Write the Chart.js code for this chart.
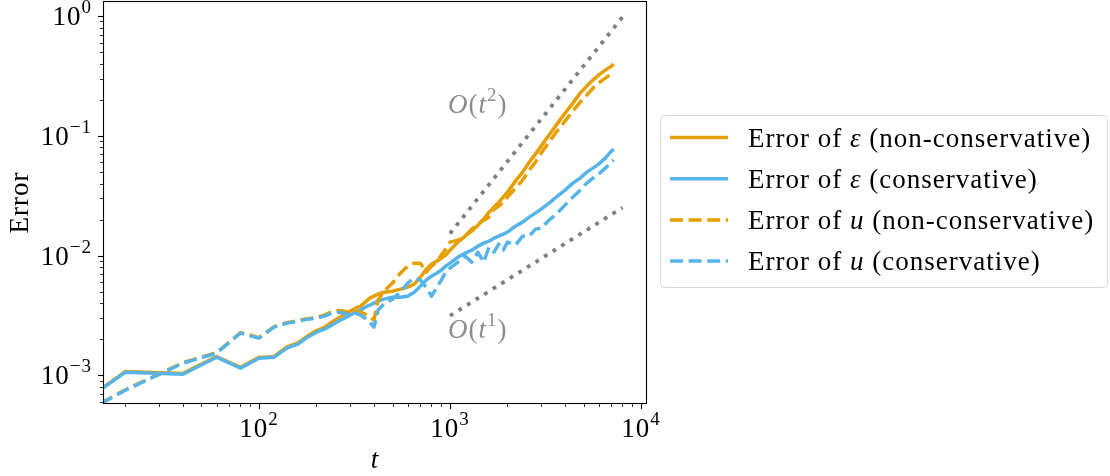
<!DOCTYPE html>
<html>
<head>
<meta charset="utf-8">
<script src="https://cdn.jsdelivr.net/npm/chart.js@4.4.1/dist/chart.umd.min.js"></script>
<style>
  html, body { margin: 0; padding: 0; background: #fff; }
</style>
</head>
<body>
<canvas id="errChart" width="1110" height="476"></canvas>
<script>
// time samples
const tValues = [10, 20, 40, 60, 80, 100, 120, 140, 160, 180, 200, 220, 240, 260, 280, 300, 320, 340, 360, 380,
    400, 420, 450, 500, 550, 600, 650, 700, 750, 800, 850, 900, 950, 1000, 1100, 1200, 1300, 1400, 1500, 1600,
    1700, 1800, 1900, 2000, 2200, 2400, 2600, 2800, 3000, 3300, 3600, 4000, 4400, 4800, 5200, 5600, 6000, 6500,
    7000, 7200];

// Error of epsilon (non-conservative)
const epsNonCons = [4.9e-4, 1.08e-3, 1.04e-3, 1.44e-3, 1.168e-3, 1.415e-3, 1.44e-3, 1.73e-3, 1.87e-3, 2.14e-3,
    2.37e-3, 2.52e-3, 2.786e-3, 3.008e-3, 3.249e-3, 3.441e-3, 3.646e-3, 3.789e-3, 4.091e-3, 4.418e-3,
    4.591e-3, 4.771e-3, 4.958e-3, 5.053e-3, 5.252e-3, 5.459e-3, 5.782e-3, 6.614e-3, 7.714e-3, 8.492e-3,
    8.999e-3, 9.530e-3, 0.0101, 0.01111, 0.01297, 0.01455, 0.01602, 0.01797, 0.02017, 0.02307,
    0.0254, 0.02796, 0.03078, 0.03389, 0.04187, 0.04977, 0.06033, 0.07036, 0.08204, 0.1014,
    0.1228, 0.1547, 0.1875, 0.2272, 0.2601, 0.2917, 0.3211, 0.3535, 0.3818, 0.3968];

// Error of epsilon (conservative)
const epsCons = [4.85e-4, 1.065e-3, 1.025e-3, 1.421e-3, 1.151e-3, 1.394e-3, 1.421e-3, 1.690e-3, 1.825e-3, 2.088e-3,
    2.298e-3, 2.435e-3, 2.630e-3, 2.840e-3, 3.008e-3, 3.187e-3, 3.376e-3, 3.508e-3, 3.716e-3, 3.862e-3,
    4.013e-3, 4.170e-3, 4.334e-3, 4.504e-3, 4.504e-3, 4.591e-3, 4.958e-3, 5.563e-3, 6.244e-3, 6.743e-3,
    7.143e-3, 7.568e-3, 8.177e-3, 8.659e-3, 9.716e-3, 0.01049, 0.01111, 0.012, 0.01272, 0.01321,
    0.014, 0.01455, 0.01512, 0.01571, 0.01763, 0.01904, 0.02097, 0.02264, 0.02444, 0.02743,
    0.03078, 0.03521, 0.04029, 0.04435, 0.04977, 0.05375, 0.05805, 0.06515, 0.07453, 0.07745];

// Error of u (non-conservative)
const uNonCons = [4.18e-4, 7.6e-4, 1.28e-3, 1.55e-3, 2.28e-3, 2.07e-3, 2.56e-3, 2.76e-3, 2.87e-3, 2.98e-3,
    3.05e-3, 3.19e-3, 3.40e-3, 3.48e-3, 3.441e-3, 3.311e-3, 3.441e-3, 3.376e-3, 3.249e-3, 3.066e-3,
    2.894e-3, 4.251e-3, 5.053e-3, 5.895e-3, 7.143e-3, 8.177e-3, 8.659e-3, 8.659e-3, 7.282e-3, 8.177e-3,
    8.826e-3, 0.0101, 0.01133, 0.01297, 0.01347, 0.01455, 0.01664, 0.01832, 0.01978, 0.02097,
    0.02444, 0.02589, 0.02796, 0.03078, 0.03659, 0.04268, 0.05172, 0.06033, 0.07171, 0.08857,
    0.1074, 0.1327, 0.1608, 0.1911, 0.2186, 0.2502, 0.2754, 0.3031, 0.3273, 0.3401];

// Error of u (conservative)
const uCons = [4.154e-4, 7.539e-4, 1.267e-3, 1.535e-3, 2.255e-3, 2.048e-3, 2.530e-3, 2.733e-3, 2.840e-3, 2.951e-3,
    3.008e-3, 3.126e-3, 3.311e-3, 3.376e-3, 3.311e-3, 3.187e-3, 3.311e-3, 3.187e-3, 3.008e-3, 2.786e-3,
    2.530e-3, 3.508e-3, 3.937e-3, 4.334e-3, 4.958e-3, 5.895e-3, 6.489e-3, 6.244e-3, 5.459e-3, 4.591e-3,
    5.354e-3, 6.244e-3, 7.282e-3, 7.865e-3, 8.826e-3, 9.904e-3, 8.826e-3, 0.0107, 8.826e-3, 0.01178,
    0.0107, 0.01247, 0.01111, 0.01297, 0.01224, 0.01455, 0.01455, 0.01664, 0.01696, 0.01978,
    0.0222, 0.02639, 0.03078, 0.03521, 0.04029, 0.04435, 0.04789, 0.05375, 0.06033, 0.06268];

// reference slopes
const refT = [1000, 8000];
const refOrder2 = [0.0153, 0.98];
const refOrder1 = [0.00315, 0.0252];

const xMajorTicks = [100, 1000, 10000];
const yMajorTicks = [1, 0.1, 0.01, 0.001];

const seriesLabels = [
    ['Error of ', 'ε', ' (non-conservative)'],
    ['Error of ', 'ε', ' (conservative)'],
    ['Error of ', 'u', ' (non-conservative)'],
    ['Error of ', 'u', ' (conservative)']
];

const ORANGE = '#E69F00';
const BLUE = '#56B4E9';
const GREY = '#7f7f7f';
const SERIF = '"Liberation Serif", "DejaVu Serif", serif';
const DASH = [13, 5.6];
const DOT = [3.8, 6.3];

function font(size, italic) {
    return (italic ? 'italic ' : '') + size + 'px ' + SERIF;
}

// draws [text, size, italic, dy] runs one after another
function drawRuns(ctx, runs, x, y, align) {
    let total = 0;
    runs.forEach(r => {
        ctx.font = font(r[1], r[2]);
        r.w = ctx.measureText(r[0]).width;
        total += r.w;
    });
    let cx = align === 'right' ? x - total : align === 'center' ? x - total / 2 : x;
    runs.forEach(r => {
        ctx.font = font(r[1], r[2]);
        ctx.fillText(r[0], cx, y + (r[3] || 0));
        cx += r.w;
    });
}

function expLabel(v) {
    const e = Math.round(Math.log10(v));
    return [['10', 27, false, 0], [(e < 0 ? '\u2212' : '') + Math.abs(e), 19, false, -12]];
}

const pts = (ys) => tValues.map((t, i) => ({x: t, y: ys[i]}));
const refPts = (ys) => refT.map((t, i) => ({x: t, y: ys[i]}));

const axesPlugin = {
    id: 'axesPlugin',
    afterDraw(chart) {
        const ctx = chart.ctx;
        const a = chart.chartArea;
        const xs = chart.scales.x;
        const ys = chart.scales.y;
        ctx.save();
        ctx.letterSpacing = '1px';
        ctx.textBaseline = 'alphabetic';

        // frame
        ctx.strokeStyle = '#000';
        ctx.lineWidth = 1.1;
        ctx.strokeRect(a.left + 0.5, a.top + 0.5, a.right - a.left - 1, a.bottom - a.top - 1);

        // x ticks
        for (let k = 1; k <= 4; k++) {
            for (let m = 1; m <= 9; m++) {
                const v = m * Math.pow(10, k);
                if (v < xs.min || v > xs.max) continue;
                const px = Math.round(xs.getPixelForValue(v)) + 0.5;
                ctx.lineWidth = m === 1 ? 1.1 : 0.8;
                ctx.beginPath();
                ctx.moveTo(px, a.bottom);
                ctx.lineTo(px, a.bottom + (m === 1 ? 5 : 3));
                ctx.stroke();
            }
        }
        // y ticks
        for (let k = -4; k <= 0; k++) {
            for (let m = 1; m <= 9; m++) {
                const v = m * Math.pow(10, k);
                if (v < ys.min || v > ys.max) continue;
                const py = Math.round(ys.getPixelForValue(v)) + 0.5;
                ctx.lineWidth = m === 1 ? 1.1 : 0.8;
                ctx.beginPath();
                ctx.moveTo(a.left, py);
                ctx.lineTo(a.left - (m === 1 ? 5 : 3), py);
                ctx.stroke();
            }
        }

        // tick labels
        ctx.fillStyle = '#000';
        xMajorTicks.forEach(v => {
            drawRuns(ctx, expLabel(v), xs.getPixelForValue(v), a.bottom + 33, 'center');
        });
        yMajorTicks.forEach(v => {
            drawRuns(ctx, expLabel(v), a.left - 11, ys.getPixelForValue(v) + 9, 'right');
        });

        // axis titles
        drawRuns(ctx, [['t', 27, true, 0]], (a.left + a.right) / 2, 468, 'center');
        ctx.save();
        ctx.translate(28, (a.top + a.bottom) / 2);
        ctx.rotate(-Math.PI / 2);
        drawRuns(ctx, [['Error', 27, false, 0]], 0, 0, 'center');
        ctx.restore();

        // slope annotations
        ctx.fillStyle = '#8c8c8c';
        drawRuns(ctx, [['O', 27, true, 0], ['(', 27, false, 0], ['t', 27, true, 0], ['2', 19, false, -12], [')', 27, false, 0]],
            xs.getPixelForValue(1000) - 2, ys.getPixelForValue(0.155), 'left');
        drawRuns(ctx, [['O', 27, true, 0], ['(', 27, false, 0], ['t', 27, true, 0], ['1', 19, false, -12], [')', 27, false, 0]],
            xs.getPixelForValue(1000) - 2, ys.getPixelForValue(0.00205), 'left');

        // legend
        const lx = 660.5, ly = 115.5, lw = 447, lh = 172;
        ctx.beginPath();
        ctx.roundRect(lx, ly, lw, lh, 4);
        ctx.fillStyle = 'rgba(255,255,255,0.8)';
        ctx.fill();
        ctx.strokeStyle = '#d6d6d6';
        ctx.lineWidth = 1;
        ctx.stroke();

        const legendDs = chart.data.datasets.slice(0, 4);
        legendDs.forEach((ds, i) => {
            const cy = 137.5 + i * 41.2;
            ctx.strokeStyle = ds.borderColor;
            ctx.lineWidth = ds.borderWidth;
            ctx.lineCap = 'butt';
            ctx.setLineDash(ds.borderDash || []);
            ctx.beginPath();
            ctx.moveTo(670, cy);
            ctx.lineTo(728, cy);
            ctx.stroke();
            ctx.setLineDash([]);
            ctx.fillStyle = '#000';
            const lab = seriesLabels[i];
            drawRuns(ctx, [[lab[0], 27, false, 0], [lab[1], 27, true, 0], [lab[2], 27, false, 0]], 748, cy + 9, 'left');
        });
        ctx.restore();
    }
};

new Chart(document.getElementById('errChart'), {
    type: 'line',
    data: {
        datasets: [
            {label: 'eps non-conservative', data: pts(epsNonCons), borderColor: ORANGE, borderWidth: 3.5, order: 3},
            {label: 'eps conservative', data: pts(epsCons), borderColor: BLUE, borderWidth: 3.5, order: 2},
            {label: 'u non-conservative', data: pts(uNonCons), borderColor: ORANGE, borderWidth: 3.5, borderDash: DASH, order: 1},
            {label: 'u conservative', data: pts(uCons), borderColor: BLUE, borderWidth: 3.5, borderDash: DASH, order: 0},
            {label: 'O(t^2)', data: refPts(refOrder2), borderColor: GREY, borderWidth: 3.8, borderDash: DOT, order: 4},
            {label: 'O(t^1)', data: refPts(refOrder1), borderColor: GREY, borderWidth: 3.8, borderDash: DOT, order: 5}
        ]
    },
    options: {
        responsive: false,
        animation: false,
        devicePixelRatio: 1,
        layout: {padding: {left: 103, top: 1, right: 463, bottom: 72}},
        datasets: {
            line: {
                pointRadius: 0,
                tension: 0,
                fill: false,
                clip: 0,
                borderJoinStyle: 'round',
                borderCapStyle: 'butt'
            }
        },
        scales: {
            x: {type: 'logarithmic', min: 15.25, max: 10750, display: false},
            y: {type: 'logarithmic', min: 5.78e-4, max: 1.334, display: false}
        },
        plugins: {
            legend: {display: false},
            tooltip: {enabled: false}
        }
    },
    plugins: [axesPlugin]
});
</script>
</body>
</html>
